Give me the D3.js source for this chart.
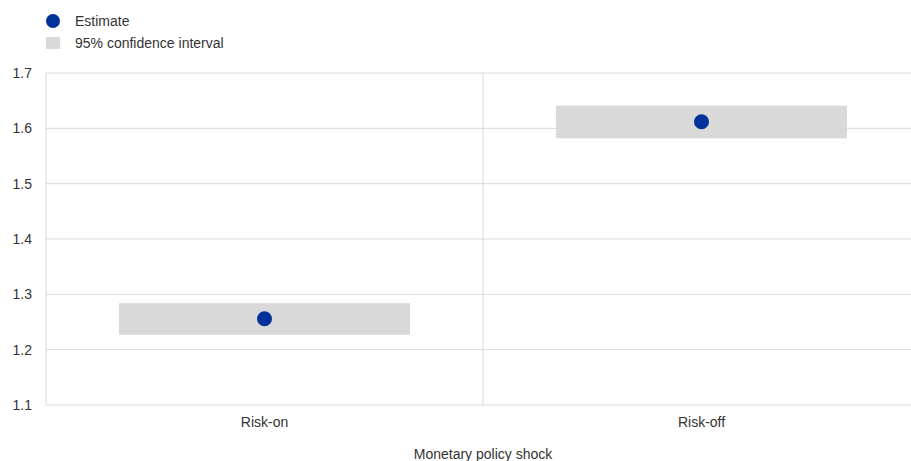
<!DOCTYPE html>
<html><head><meta charset="utf-8">
<script src="https://cdn.jsdelivr.net/npm/d3@7"></script>
<style>body{margin:0;background:#fff;}svg{display:block;font-family:"Liberation Sans",Arial,sans-serif;}</style>
</head><body>
<svg id="c" width="911" height="461"></svg>
<script>
const categories = ["Risk-on", "Risk-off"];
const estimates = [1.256, 1.612];
const ciLow = [1.227, 1.582];
const ciHigh = [1.284, 1.641];
const yTicks = [1.1, 1.2, 1.3, 1.4, 1.5, 1.6, 1.7];
const xTitle = "Monetary policy shock";
const legendLabels = ["Estimate", "95% confidence interval"];

const svg = d3.select("#c");
const m = {l: 46, r: 920, t: 73, b: 405};
const x = d3.scaleBand().domain(categories).range([m.l, m.r]).paddingInner(0).paddingOuter(0);
const y = d3.scaleLinear().domain([1.1, 1.7]).range([m.b, m.t]);
const grid = "#d9d9d9";
const blue = "#003299";
const barGray = "#d9d9d9";

// gridlines
svg.append("g").selectAll("line").data(yTicks).join("line")
  .attr("x1", m.l).attr("x2", m.r)
  .attr("y1", d => y(d)).attr("y2", d => y(d))
  .attr("stroke", grid).attr("stroke-width", 1);
// vertical separators
svg.append("line").attr("x1", m.l).attr("x2", m.l).attr("y1", m.t).attr("y2", m.b).attr("stroke", grid);
svg.append("g").selectAll("line").data(categories.slice(1)).join("line")
  .attr("x1", d => x(d)).attr("x2", d => x(d)).attr("y1", m.t).attr("y2", m.b).attr("stroke", grid);

// y axis labels
const yAxis = d3.axisLeft(y).tickValues(yTicks).tickFormat(d3.format(".1f")).tickSize(0).tickPadding(14);
const ya = svg.append("g").attr("transform", `translate(${m.l},0)`).call(yAxis);
ya.select(".domain").remove();
ya.selectAll("text").attr("font-size", 14).attr("fill", "#333").attr("font-family", "Liberation Sans, Arial, sans-serif");

// x axis labels
const xAxis = d3.axisBottom(x).tickSize(0).tickPadding(12);
const xa = svg.append("g").attr("transform", `translate(0,${m.b})`).call(xAxis);
xa.select(".domain").remove();
xa.selectAll("text").attr("font-size", 14).attr("fill", "#333").attr("font-family", "Liberation Sans, Arial, sans-serif");

svg.append("text").attr("x", (m.l + m.r) / 2).attr("y", 459).attr("text-anchor", "middle")
  .attr("font-size", 14).attr("fill", "#333").text(xTitle);

// CI bars
const barW = x.bandwidth() * 0.666;
svg.append("g").selectAll("rect").data(categories).join("rect")
  .attr("x", d => x(d) + x.bandwidth() / 2 - barW / 2)
  .attr("width", barW)
  .attr("y", (d, i) => y(ciHigh[i]))
  .attr("height", (d, i) => y(ciLow[i]) - y(ciHigh[i]))
  .attr("fill", barGray);

// estimates
svg.append("g").selectAll("circle").data(categories).join("circle")
  .attr("cx", d => x(d) + x.bandwidth() / 2)
  .attr("cy", (d, i) => y(estimates[i]))
  .attr("r", 7.5).attr("fill", blue);

// legend
const lg = svg.append("g");
lg.append("circle").attr("cx", 53).attr("cy", 21).attr("r", 7).attr("fill", blue);
lg.append("rect").attr("x", 46).attr("y", 37).attr("width", 14).attr("height", 12).attr("fill", barGray);
lg.selectAll("text").data(legendLabels).join("text")
  .attr("x", 75).attr("y", (d, i) => 26 + i * 22)
  .attr("font-size", 14).attr("fill", "#333").text(d => d);
</script>
</body></html>
